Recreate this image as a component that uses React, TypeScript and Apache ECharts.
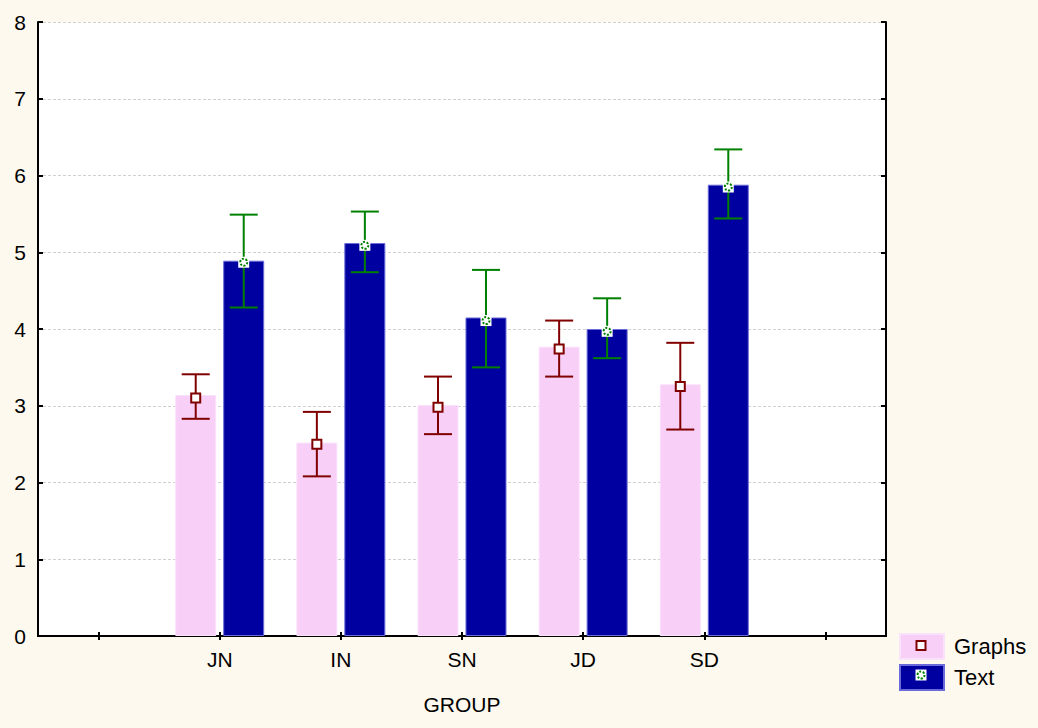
import React, { useEffect, useRef } from "react";
import * as echarts from "echarts";

const categories = ["", "JN", "IN", "SN", "JD", "SD", ""];
const groups = ["JN", "IN", "SN", "JD", "SD"];

const graphsBar = [3.14, 2.52, 3.01, 3.77, 3.28];
const graphsMean = [3.1, 2.5, 2.98, 3.74, 3.25];
const graphsHigh = [3.41, 2.92, 3.38, 4.11, 3.82];
const graphsLow = [2.83, 2.08, 2.63, 3.38, 2.69];

const textBar = [4.89, 5.12, 4.15, 4.0, 5.88];
const textMean = [4.87, 5.09, 4.11, 3.97, 5.85];
const textHigh = [5.49, 5.53, 4.77, 4.4, 6.34];
const textLow = [4.28, 4.74, 3.5, 3.62, 5.44];

const yTicks = [0, 1, 2, 3, 4, 5, 6, 7, 8];

const FONT = "'Liberation Sans', Arial, sans-serif";
const PINK = "#F7CFF7";
const BLUE = "#0000A0";
const RED = "#800000";
const GREEN = "#008000";

function padBar(vals: number[]) {
  return ["-", ...vals, "-"];
}

function errData(low: number[], high: number[], mean: number[]) {
  return groups.map((g, i) => [categories.indexOf(g), low[i], high[i], mean[i]]);
}

function makeRender(color: string, offset: number, kind: "square" | "ring") {
  return (params: any, api: any) => {
    const idx = api.value(0);
    const lo = api.coord([idx, api.value(1)]);
    const hi = api.coord([idx, api.value(2)]);
    const md = api.coord([idx, api.value(3)]);
    const x = lo[0] + offset;
    const cap = 14;
    const ls = { stroke: color, lineWidth: 2 };
    const children: any[] = [
      { type: "line", shape: { x1: x, y1: hi[1], x2: x, y2: lo[1] }, style: ls },
      { type: "line", shape: { x1: x - cap, y1: hi[1], x2: x + cap, y2: hi[1] }, style: ls },
      { type: "line", shape: { x1: x - cap, y1: lo[1], x2: x + cap, y2: lo[1] }, style: ls },
    ];
    if (kind === "square") {
      children.push({
        type: "rect",
        shape: { x: x - 4.5, y: md[1] - 4.5, width: 9, height: 9 },
        style: { fill: "#fff", stroke: RED, lineWidth: 2 },
      });
    } else {
      children.push({
        type: "rect",
        shape: { x: x - 5.5, y: md[1] - 5.5, width: 11, height: 11 },
        style: { fill: "#fff" },
      });
      children.push({
        type: "circle",
        shape: { cx: x, cy: md[1], r: 3.5 },
        style: { fill: "#fff", stroke: GREEN, lineWidth: 2, lineDash: [2, 1.5] },
      });
    }
    return { type: "group", children };
  };
}

export default function App() {
  const ref = useRef<HTMLDivElement>(null);
  useEffect(() => {
    if (!ref.current) return;
    const chart = echarts.init(ref.current, null, { renderer: "svg" });
    const axisLine = { show: true, lineStyle: { color: "#000", width: 2 } };
    const option: any = {
      animation: false,
      backgroundColor: "#FEF9EE",
      textStyle: { fontFamily: FONT },
      grid: {
        left: 38,
        right: 152,
        top: 22,
        bottom: 92,
        show: true,
        backgroundColor: "#fff",
        borderWidth: 0,
      },
      legend: {
        data: ["Graphs", "Text"],
        orient: "vertical",
        left: 899,
        top: 633,
        padding: 0,
        itemWidth: 44,
        itemHeight: 25,
        itemGap: 4,
        icon: "rect",
        textStyle: { fontSize: 22, lineHeight: 25, color: "#000", fontFamily: FONT, padding: [0, 0, 0, 5] },
      },
      xAxis: [
        {
          type: "category",
          data: categories,
          position: "bottom",
          name: "GROUP",
          nameLocation: "middle",
          nameGap: 58,
          nameTextStyle: { fontSize: 21, color: "#000", fontFamily: FONT },
          axisLine,
          axisTick: { show: true, inside: true, length: 4, alignWithLabel: true, interval: 0, lineStyle: { color: "#000", width: 2 } },
          axisLabel: { fontSize: 21, color: "#000", margin: 13, interval: 0, fontFamily: FONT },
          splitLine: { show: false },
        },
        {
          type: "category",
          data: categories,
          position: "top",
          axisLine,
          axisTick: { show: true, inside: true, length: 4, alignWithLabel: true, interval: 0, lineStyle: { color: "#000", width: 2 } },
          axisLabel: { show: false },
          splitLine: { show: false },
        },
      ],
      yAxis: [
        {
          type: "value",
          min: yTicks[0],
          max: yTicks[yTicks.length - 1],
          interval: 1,
          position: "left",
          axisLine,
          axisTick: { show: true, inside: true, length: 5, lineStyle: { color: "#000", width: 2 } },
          axisLabel: { fontSize: 21, color: "#000", margin: 12, fontFamily: FONT },
          splitLine: { show: true, lineStyle: { color: "#d0d0d0", type: [3, 2], width: 1 } },
        },
        {
          type: "value",
          min: yTicks[0],
          max: yTicks[yTicks.length - 1],
          interval: 1,
          position: "right",
          axisLine,
          axisTick: { show: true, inside: true, length: 5, lineStyle: { color: "#000", width: 2 } },
          axisLabel: { show: false },
          splitLine: { show: false },
        },
      ],
      series: [
        {
          name: "Graphs",
          type: "bar",
          data: padBar(graphsBar),
          barWidth: 41,
          barGap: "17%",
          itemStyle: { color: PINK, borderColor: "#FBE2FB", borderWidth: 1 },
        },
        {
          name: "Text",
          type: "bar",
          data: padBar(textBar),
          barWidth: 41,
          barGap: "17%",
          itemStyle: { color: BLUE, borderColor: "#6A6AD8", borderWidth: 1 },
        },
        {
          name: "Graphs err",
          type: "custom",
          data: errData(graphsLow, graphsHigh, graphsMean),
          encode: { x: 0, y: [1, 2] },
          renderItem: makeRender(RED, -24, "square"),
          z: 10,
        },
        {
          name: "Text err",
          type: "custom",
          data: errData(textLow, textHigh, textMean),
          encode: { x: 0, y: [1, 2] },
          renderItem: makeRender(GREEN, 24, "ring"),
          z: 10,
        },
      ],
      graphic: [
        {
          type: "rect",
          shape: { x: 921 - 4.5, y: 645.5 - 4.5, width: 9, height: 9 },
          style: { fill: "#fff", stroke: RED, lineWidth: 2 },
          z: 100,
        },
        {
          type: "rect",
          shape: { x: 921 - 5.5, y: 675 - 5.5, width: 11, height: 11 },
          style: { fill: "#fff" },
          z: 100,
        },
        {
          type: "circle",
          shape: { cx: 921, cy: 675, r: 3.5 },
          style: { fill: "#fff", stroke: GREEN, lineWidth: 2, lineDash: [2, 1.5] },
          z: 101,
        },
      ],
    };
    chart.setOption(option);
    return () => chart.dispose();
  }, []);
  return (
    <div
      ref={ref}
      style={{ position: "fixed", left: 0, top: 0, width: 1038, height: 728 }}
    />
  );
}
